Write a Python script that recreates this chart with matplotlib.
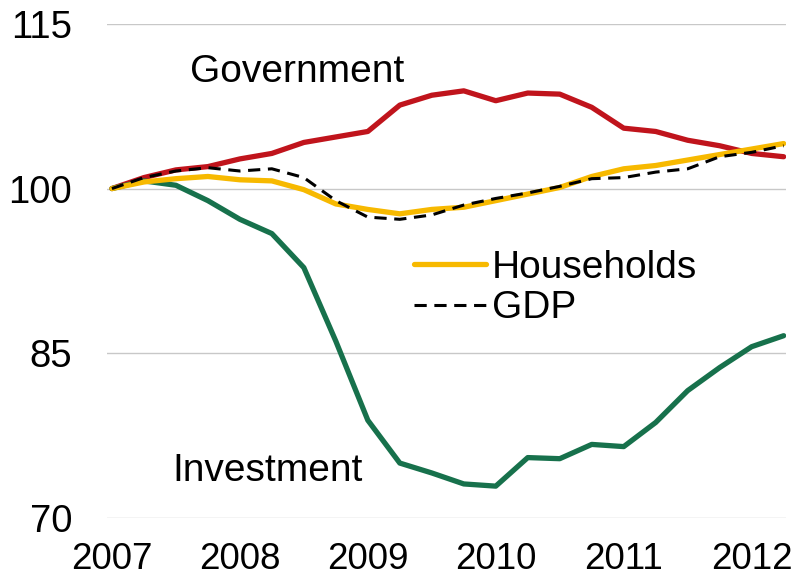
import numpy as np
import matplotlib
matplotlib.use("Agg")
import matplotlib.pyplot as plt

plt.rcParams['font.family'] = ['Liberation Sans', 'DejaVu Sans']

# quarterly index, 2007 Q1 = 100
quarters = 2007 + np.arange(22) / 4

government = [100.0, 101.0, 101.7, 102.0, 102.7, 103.2, 104.2, 104.7, 105.2, 107.6, 108.5,
              108.9, 108.0, 108.7, 108.6, 107.4, 105.5, 105.2, 104.4, 103.9, 103.2, 102.9]
households = [100.0, 100.6, 100.9, 101.1, 100.8, 100.7, 99.9, 98.6, 98.1, 97.7, 98.1,
              98.3, 98.9, 99.5, 100.1, 101.1, 101.8, 102.1, 102.6, 103.1, 103.6, 104.1]
gdp = [100.0, 101.0, 101.6, 101.9, 101.6, 101.8, 101.0, 98.9, 97.4, 97.2, 97.6,
       98.5, 99.1, 99.6, 100.2, 100.9, 101.0, 101.5, 101.8, 102.9, 103.3, 103.9]
investment = [100.0, 100.7, 100.3, 98.9, 97.2, 95.9, 92.8, 86.1, 78.9, 75.0, 74.1,
              73.1, 72.9, 75.5, 75.4, 76.7, 76.5, 78.7, 81.6, 83.7, 85.6, 86.6]

years = [2007, 2008, 2009, 2010, 2011, 2012]
yticks = [70, 85, 100, 115]

fig = plt.figure(figsize=(7.92, 5.82), dpi=100)
ax = fig.add_axes([0.135, 0.110, 0.857, 0.849])

ax.plot(quarters, government, color='#C0141C', lw=3.8, solid_capstyle='round', zorder=3)
ax.plot(quarters, investment, color='#17714C', lw=3.8, solid_capstyle='round', zorder=3)
ax.plot(quarters, households, color='#F7B900', lw=3.8, solid_capstyle='round',
        label='Households', zorder=3)
ax.plot(quarters, gdp, color='black', lw=2.2, ls=(0, (4, 2.5)), label='GDP', zorder=4)

ax.set_xlim(2007 - 5 / 128, 2007 + 674 / 128)
ax.set_ylim(70, 115)
ax.set_xticks(years)
ax.set_yticks(yticks)
ax.tick_params(length=0)
ax.tick_params(axis='y', pad=25, labelsize=27.5)
ax.tick_params(axis='x', pad=17, labelsize=26.5)
for s in ax.spines.values():
    s.set_visible(False)
ax.grid(axis='y', color='#C8C8C8', lw=1)
ax.set_axisbelow(True)

ax.text(2007.61, 109.66, 'Government', fontsize=28, va='baseline', ha='left')
ax.text(2007.47, 73.38, 'Investment', fontsize=28, va='baseline', ha='left')

ax.legend(loc='center left', bbox_to_anchor=(414 / 792, 1 - 288 / 582),
          bbox_transform=fig.transFigure, frameon=False, fontsize=28,
          handlelength=1.85, handletextpad=0.16, labelspacing=0.12, borderpad=0,
          borderaxespad=0)

fig.savefig('out.png', dpi=100)
